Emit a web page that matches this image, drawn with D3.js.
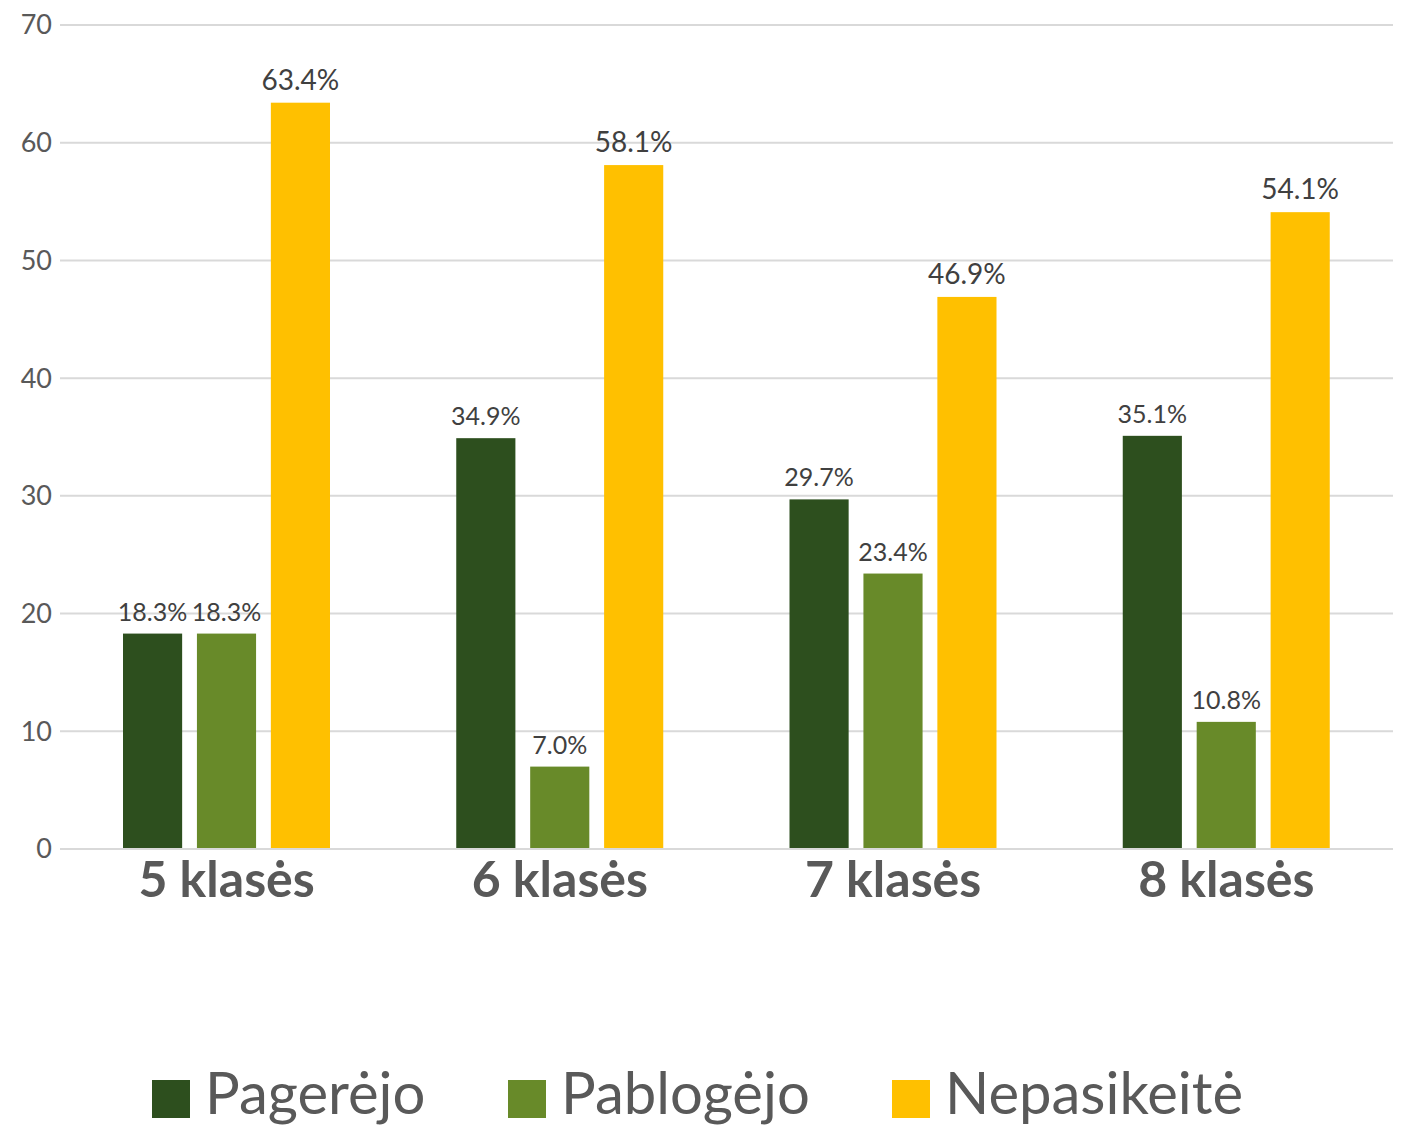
<!DOCTYPE html>
<html>
<head>
<meta charset="utf-8">
<script src="https://cdn.jsdelivr.net/npm/d3@7"></script>
<style>
  body { margin: 0; background: #fff; }
  svg { font-family: Lato, sans-serif; }
</style>
</head>
<body>
<svg id="chart" width="1402" height="1127"></svg>
<script>
const categories = ['5 klasės', '6 klasės', '7 klasės', '8 klasės'];
const seriesNames = ['Pagerėjo', 'Pablogėjo', 'Nepasikeitė'];
const pagerejo = [18.3, 34.9, 29.7, 35.1];
const pablogejo = [18.3, 7.0, 23.4, 10.8];
const nepasikeite = [63.4, 58.1, 46.9, 54.1];
const yTicks = [0, 10, 20, 30, 40, 50, 60, 70];
const colors = ['#2d4f1e', '#688a29', '#ffc000'];

const seriesValues = [pagerejo, pablogejo, nepasikeite];

const svg = d3.select('#chart');
const margin = {top: 25, right: 9, left: 60, bottom: 278};
const width = +svg.attr('width');
const height = +svg.attr('height');
const innerWidth = width - margin.left - margin.right;
const innerHeight = height - margin.top - margin.bottom;

const g = svg.append('g')
    .attr('transform', `translate(${margin.left}, ${margin.top})`);

const xScale = d3.scaleBand().domain(categories).range([0, innerWidth]);
const xInner = d3.scaleBand().domain(seriesNames).range([63, 270]).paddingInner(0.2);
const yScale = d3.scaleLinear().domain([0, 70]).range([innerHeight, 0]);

// gridlines
g.selectAll('.grid').data(yTicks).enter().append('line')
    .attr('x1', 0).attr('x2', innerWidth)
    .attr('y1', d => yScale(d)).attr('y2', d => yScale(d))
    .attr('stroke', '#d9d9d9').attr('stroke-width', 2);

// y tick labels
g.selectAll('.ytick').data(yTicks).enter().append('text')
    .attr('x', -8).attr('y', d => yScale(d))
    .attr('dy', '0.35em')
    .attr('text-anchor', 'end')
    .attr('font-size', 27)
    .attr('fill', '#595959')
    .text(d => d);

// bars
const groups = g.selectAll('.cat').data(categories).enter().append('g')
    .attr('transform', d => `translate(${xScale(d)}, 0)`);

groups.each(function(cat, ci) {
    const grp = d3.select(this);
    seriesNames.forEach((s, si) => {
        const v = seriesValues[si][ci];
        grp.append('rect')
            .attr('x', xInner(s))
            .attr('y', yScale(v))
            .attr('width', xInner.bandwidth())
            .attr('height', innerHeight - yScale(v))
            .attr('fill', colors[si]);
        grp.append('text')
            .attr('x', xInner(s) + xInner.bandwidth() / 2)
            .attr('y', yScale(v) - 13)
            .attr('text-anchor', 'middle')
            .attr('font-size', si === 2 ? 28 : 25)
            .attr('fill', '#404040')
            .text(v.toFixed(1) + '%');
    });
});

// axis line
g.append('line')
    .attr('x1', 0).attr('x2', innerWidth)
    .attr('y1', innerHeight).attr('y2', innerHeight)
    .attr('stroke', '#d9d9d9').attr('stroke-width', 2);

// category labels
g.selectAll('.xlabel').data(categories).enter().append('text')
    .attr('x', d => xScale(d) + xScale.bandwidth() / 2)
    .attr('y', innerHeight + 48)
    .attr('text-anchor', 'middle')
    .attr('font-size', 50)
    .attr('font-weight', 'bold')
    .attr('fill', '#595959')
    .text(d => d);

// legend
const legendX = [152, 508, 892];
const legend = svg.selectAll('.legend').data(seriesNames).enter().append('g')
    .attr('transform', (d, i) => `translate(${legendX[i]}, 1080)`);
legend.append('rect')
    .attr('width', 38).attr('height', 38)
    .attr('fill', (d, i) => colors[i]);
legend.append('text')
    .attr('x', 53).attr('y', 34)
    .attr('font-size', 58)
    .attr('fill', '#595959')
    .text(d => d);
</script>
</body>
</html>
